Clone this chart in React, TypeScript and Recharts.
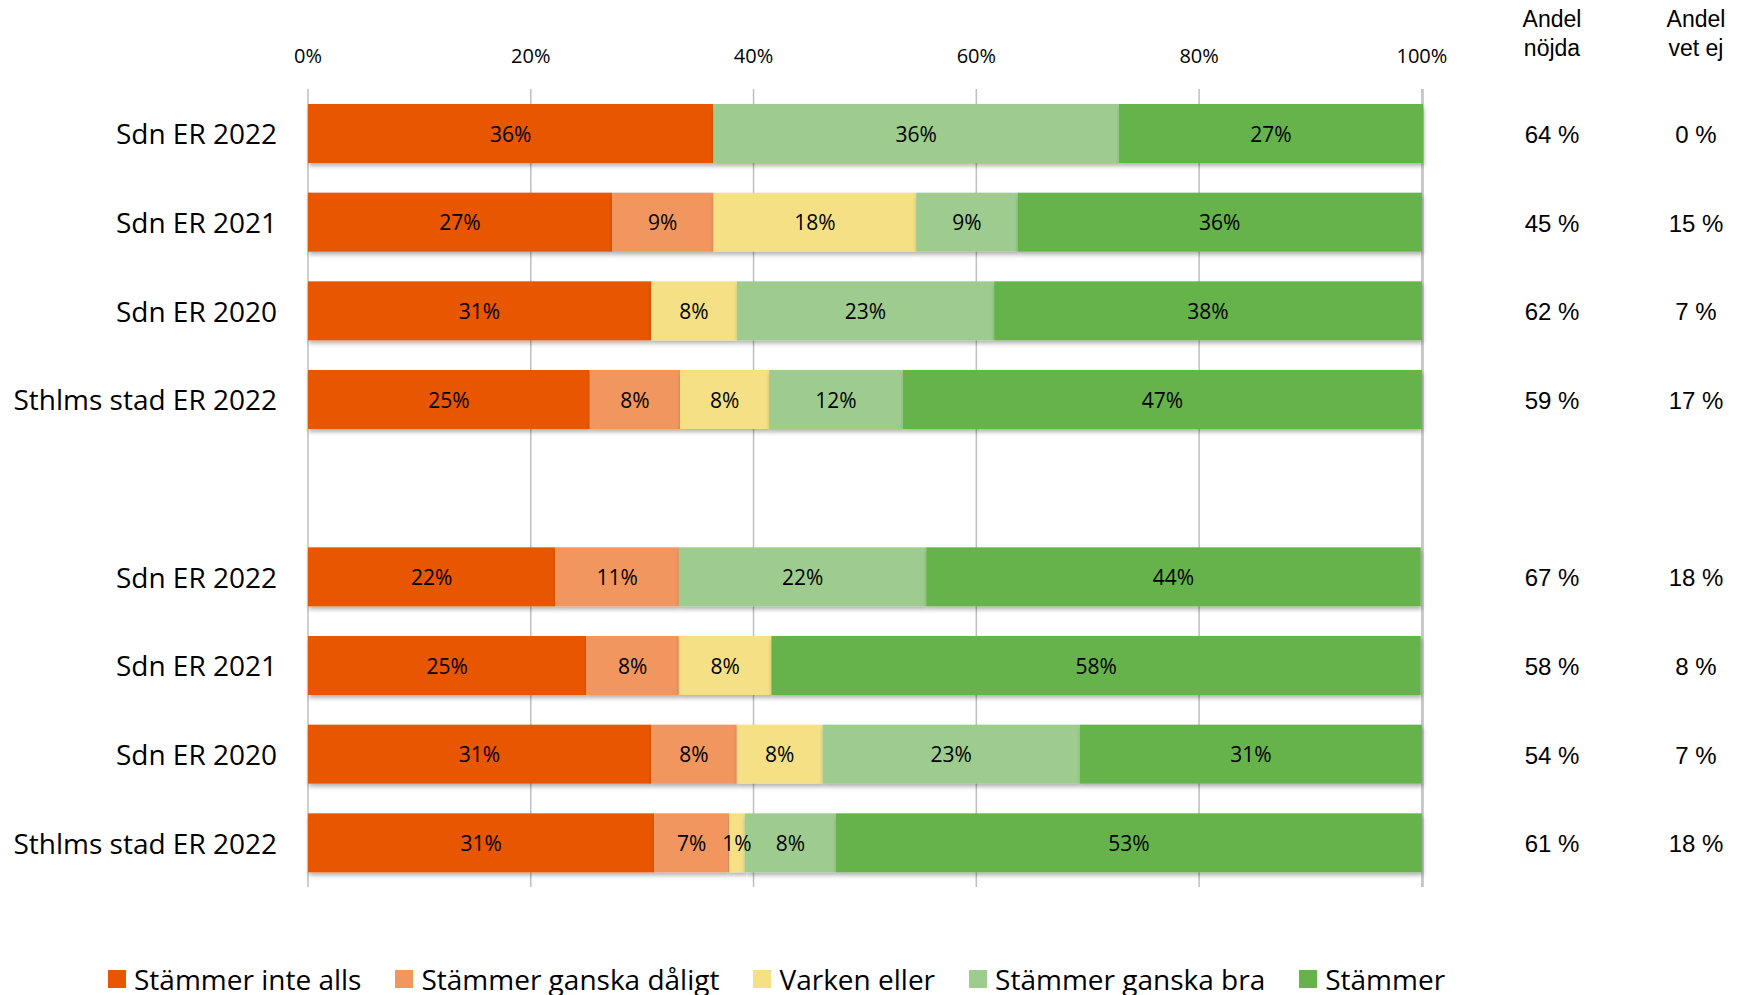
import { BarChart, Bar, XAxis, YAxis, CartesianGrid, LabelList } from 'recharts';

const categories = [
  'Sdn ER 2022',
  'Sdn ER 2021',
  'Sdn ER 2020',
  'Sthlms stad ER 2022',
  '',
  'Sdn ER 2022',
  'Sdn ER 2021',
  'Sdn ER 2020',
  'Sthlms stad ER 2022',
];

const inteAlls = [36.4, 27.3, 30.8, 25.3, 0, 22.2, 25.0, 30.8, 31.1];
const gandaDaligt = [0, 9.1, 0, 8.1, 0, 11.1, 8.3, 7.7, 6.7];
const varkenEller = [0, 18.2, 7.7, 8.0, 0, 0, 8.3, 7.7, 1.4];
const gandaBra = [36.4, 9.1, 23.1, 12.0, 0, 22.2, 0, 23.1, 8.2];
const stammer = [27.3, 36.3, 38.4, 46.6, 0, 44.4, 58.3, 30.7, 52.6];

const andelNojda = ['64 %', '45 %', '62 %', '59 %', '', '67 %', '58 %', '54 %', '61 %'];
const andelVetEj = ['0 %', '15 %', '7 %', '17 %', '', '18 %', '8 %', '7 %', '18 %'];

const xTicks = [0, 20, 40, 60, 80, 100];

const series = [
  { key: 'inteAlls', name: 'Stämmer inte alls', color: '#E85604' },
  { key: 'gandaDaligt', name: 'Stämmer ganska dåligt', color: '#F1965E' },
  { key: 'varkenEller', name: 'Varken eller', color: '#F6E085' },
  { key: 'gandaBra', name: 'Stämmer ganska bra', color: '#9ECC8F' },
  { key: 'stammer', name: 'Stämmer', color: '#66B34C' },
];

const data = categories.map((label, i) => ({
  id: i,
  label,
  inteAlls: inteAlls[i],
  gandaDaligt: gandaDaligt[i],
  varkenEller: varkenEller[i],
  gandaBra: gandaBra[i],
  stammer: stammer[i],
}));

const CALIBRI = '"Open Sans", sans-serif';
const ARIAL = '"Liberation Sans", Arial, sans-serif';

const BarShape = (props: any) => {
  const { x, y, width, height, fill } = props;
  if (!width || width <= 0) return null;
  return <rect x={x} y={y} width={width} height={height} fill={fill} filter="url(#barShadow)" />;
};

const SegmentLabel = (props: any) => {
  const { x, y, width, height, value } = props;
  if (!value || value <= 0) return null;
  return (
    <text
      x={x + width / 2}
      y={y + height / 2}
      textAnchor="middle"
      dominantBaseline="central"
      fontFamily={CALIBRI}
      fontSize={21}
      fill="#000"
    >
      {`${Math.round(value)}%`}
    </text>
  );
};

const LeftTick = (props: any) => {
  const { y, payload, index } = props;
  return (
    <text x={277} y={y} textAnchor="end" dominantBaseline="central" fontFamily={CALIBRI} fontSize={28} fill="#000">
      {categories[index] ?? payload.value}
    </text>
  );
};

const RightTick = (props: any) => {
  const { y, index } = props;
  return (
    <g>
      <text x={1552} y={y + 1} textAnchor="middle" dominantBaseline="central" fontFamily={ARIAL} fontSize={24} fill="#000">
        {andelNojda[index]}
      </text>
      <text x={1696} y={y + 1} textAnchor="middle" dominantBaseline="central" fontFamily={ARIAL} fontSize={24} fill="#000">
        {andelVetEj[index]}
      </text>
    </g>
  );
};

const headerStyle: React.CSSProperties = {
  position: 'absolute',
  top: 5,
  width: 120,
  textAlign: 'center',
  fontFamily: ARIAL,
  fontSize: 23,
  lineHeight: '29px',
  color: '#000',
};

export default function App() {
  return (
    <div style={{ position: 'absolute', left: 0, top: 0, width: 1739, height: 995, background: '#fff' }}>
      <BarChart
        width={1739}
        height={995}
        data={data}
        layout="vertical"
        barSize={59}
        margin={{ top: 59, right: 0, bottom: 108, left: 0 }}
      >
        <defs>
          <filter id="barShadow" x="-5%" y="-20%" width="110%" height="150%">
            <feDropShadow dx="1" dy="3" stdDeviation="2" floodColor="#000" floodOpacity="0.3" />
          </filter>
        </defs>
        <CartesianGrid horizontal={false} stroke="#BFBFBF" strokeWidth={1.5} />
        <XAxis
          type="number"
          orientation="top"
          domain={[0, 100]}
          ticks={xTicks}
          tickFormatter={(v: number) => `${v}%`}
          axisLine={false}
          tickLine={false}
          height={30}
          tickMargin={20}
          tick={{ fontFamily: CALIBRI, fontSize: 20, fill: '#000' }}
          interval={0}
        />
        <YAxis
          yAxisId="left"
          type="category"
          dataKey="id"
          width={308}
          axisLine={false}
          tickLine={false}
          tick={<LeftTick />}
          interval={0}
        />
        <YAxis
          yAxisId="right"
          orientation="right"
          type="category"
          dataKey="id"
          width={316}
          axisLine={false}
          tickLine={false}
          tick={<RightTick />}
          interval={0}
        />
        {series.map((s) => (
          <Bar
            key={s.key}
            yAxisId="left"
            dataKey={s.key}
            name={s.name}
            stackId="a"
            fill={s.color}
            shape={<BarShape />}
            isAnimationActive={false}
          >
            <LabelList dataKey={s.key} content={<SegmentLabel />} />
          </Bar>
        ))}
      </BarChart>

      <div style={{ ...headerStyle, left: 1492 }}>
        Andel
        <br />
        nöjda
      </div>
      <div style={{ ...headerStyle, left: 1636 }}>
        Andel
        <br />
        vet ej
      </div>

      <div
        style={{
          position: 'absolute',
          left: 108,
          top: 960,
          display: 'flex',
          alignItems: 'center',
          gap: 34,
          fontFamily: CALIBRI,
          fontSize: 28,
          lineHeight: '38px',
          color: '#000',
          whiteSpace: 'nowrap',
        }}
      >
        {series.map((s) => (
          <div key={s.key} style={{ display: 'flex', alignItems: 'center' }}>
            <span style={{ display: 'inline-block', width: 18, height: 18, background: s.color, marginRight: 8 }} />
            <span>{s.name}</span>
          </div>
        ))}
      </div>
    </div>
  );
}
